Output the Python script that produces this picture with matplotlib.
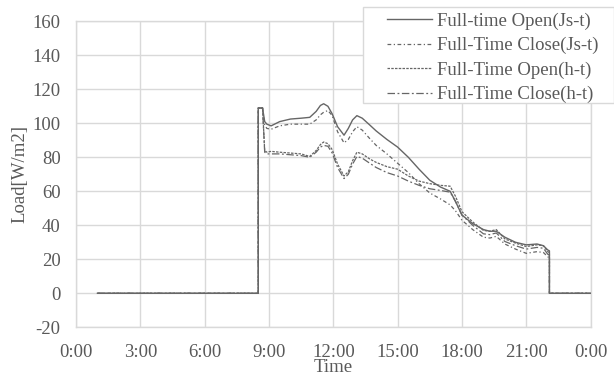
import matplotlib
matplotlib.use("Agg")
import matplotlib.pyplot as plt
from matplotlib.patches import Rectangle

# Time of day in hours; repeated times give the vertical on/off steps
hours = [1.0, 8.5, 8.5, 8.7, 8.8, 8.9, 9.1, 9.5, 10.0, 10.5, 10.9, 11.2, 11.4, 11.55,
         11.75, 11.95, 12.2, 12.5, 12.7, 12.9, 13.1, 13.35, 13.7, 14.0, 14.5, 15.0,
         15.5, 16.0, 16.5, 17.0, 17.45, 17.7, 18.0, 18.5, 19.0, 19.3, 19.6, 20.0,
         20.5, 21.0, 21.5, 21.8, 22.0, 22.08, 22.08, 24.0]

open_js = [0, 0, 109, 109, 101, 99.5, 98.5, 101, 102.5, 103, 103.5, 107, 110.5, 111.5,
           110, 105.5, 98, 93, 97, 102, 104.5, 103, 99, 95.5, 90.5, 86,
           80, 73, 66.5, 62.5, 60, 54, 46, 41, 37.5, 36.5, 36.5, 33,
           30, 28.5, 29, 28, 25.5, 25, 0, 0]

close_js = [0, 0, 109, 109, 99, 97, 96.5, 98.5, 99.5, 99.5, 99.5, 102, 105, 106.5,
            107.5, 104.5, 95, 88.5, 90.5, 95, 98, 96, 91, 87, 82, 76.5,
            71, 64.5, 59, 55.5, 52, 48.5, 43, 37.5, 33, 32.5, 33.5, 29,
            26, 23.5, 24.5, 24, 21.5, 21, 0, 0]

open_ht = [0, 0, 109, 109, 84, 83, 83.5, 83, 82.5, 82, 80.5, 84, 87.5, 89,
           88, 84.5, 76, 69, 71.5, 78, 83, 82, 79, 77, 74.5, 73,
           69, 66, 64.5, 63.5, 63, 57, 48, 42, 37, 36.5, 37.5, 32,
           29.5, 27.5, 28.5, 28, 24.5, 24, 0, 0]

close_ht = [0, 0, 109, 109, 83, 82, 82, 82, 81.5, 81, 80, 83, 86, 87,
            86.5, 82.5, 74, 67.5, 70, 76, 80.5, 79.5, 76.5, 74, 71, 69,
            66, 63.5, 61.5, 60.5, 59.5, 54, 46, 40, 35, 34.5, 35.5, 30.5,
            28, 26, 27, 26.5, 23, 22.5, 0, 0]

series_names = ["Full-time Open(Js-t)", "Full-Time Close(Js-t)",
                "Full-Time Open(h-t)", "Full-Time Close(h-t)"]
x_ticks = [0, 3, 6, 9, 12, 15, 18, 21, 24]
x_tick_labels = ["0:00", "3:00", "6:00", "9:00", "12:00", "15:00", "18:00", "21:00", "0:00"]
y_ticks = list(range(-20, 161, 20))

plt.rcParams["font.family"] = ["Liberation Serif", "DejaVu Serif"]
plt.rcParams["axes.unicode_minus"] = False
text_color = "#595959"
grid_color = "#d9d9d9"
line_color = "#666666"

fig = plt.figure(figsize=(6.14, 3.82), dpi=100)
W, H = 614, 382
ax = fig.add_axes([76 / W, 1 - 327.3 / H, (590.6 - 76) / W, (327.3 - 21.3) / H])

styles = [
    dict(linestyle="-", linewidth=1.0),
    dict(linestyle=(0, (3, 2, 1, 2)), linewidth=0.9),
    dict(linestyle=(0, (2, 1)), linewidth=0.9),
    dict(linestyle=(0, (6, 2, 1.5, 2)), linewidth=0.9),
]
handles = []
for vals, name, st in zip([open_js, close_js, open_ht, close_ht], series_names, styles):
    (ln,) = ax.plot(hours, vals, color=line_color, label=name, zorder=3, **st)
    handles.append(ln)

ax.set_xlim(0, 24)
ax.set_ylim(-20, 160)
ax.set_xticks(x_ticks)
ax.set_xticklabels(x_tick_labels)
ax.set_yticks(y_ticks)
ax.grid(True, color=grid_color, linewidth=1.0, zorder=0)
ax.set_axisbelow(True)
for sp in ax.spines.values():
    sp.set_color(grid_color)
    sp.set_linewidth(1.0)
ax.tick_params(length=0, labelsize=13.5, colors=text_color)
ax.tick_params(axis="x", pad=12)
ax.tick_params(axis="y", pad=11)

fig.text(19.5 / W, 1 - 174 / H, "Load[W/m2]", rotation=90, ha="center", va="center",
         fontsize=13.5, color=text_color)
fig.text(333 / W, 1 - 368 / H, "Time", ha="center", va="center",
         fontsize=13.5, color=text_color)

# Legend box overlapping the top-right of the plot
fig.patches.append(Rectangle((363 / W, 1 - 103 / H), (W - 363) / W, (103 - 7) / H,
                             transform=fig.transFigure, facecolor="white",
                             edgecolor=grid_color, linewidth=1.0, zorder=4))
leg = fig.legend(handles=handles, loc="upper left", bbox_to_anchor=(383 / W, 1 - 9 / H),
                 frameon=False, fontsize=13.5, handlelength=2.4, handletextpad=0.3,
                 labelspacing=0.38, borderpad=0.2, borderaxespad=0)
leg.set_zorder(5)
for t in leg.get_texts():
    t.set_color(text_color)

fig.savefig("out.png", dpi=100)
